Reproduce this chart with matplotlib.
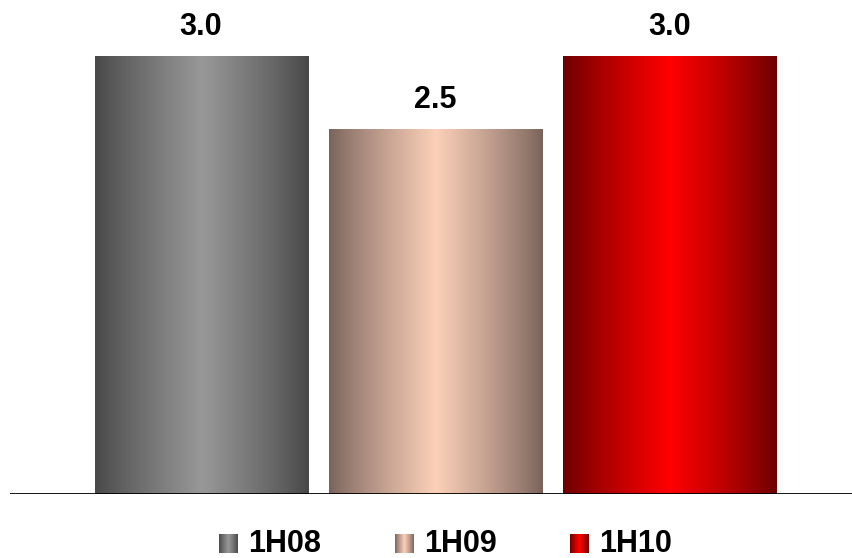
import matplotlib
matplotlib.use("Agg")
import matplotlib.pyplot as plt
from matplotlib.patches import Rectangle
from matplotlib.colors import to_rgb
import numpy as np

periods = ["1H08", "1H09", "1H10"]
values = [3.0, 2.5, 3.0]
value_labels = ["3.0", "2.5", "3.0"]

# (edge colour, centre colour) for the cylinder-style shading
shades = [("#474747", "#989898"),
          ("#78625a", "#fcd0b9"),
          ("#6a0000", "#ff0000")]

plt.rcParams["font.family"] = ["Liberation Sans", "DejaVu Sans"]


def gradient(edge, centre, n=256):
    e = np.array(to_rgb(edge))
    c = np.array(to_rgb(centre))
    t = np.linspace(0, 1, n)
    t = (1 - np.abs(2 * t - 1)) ** 0.85
    img = e[None, :] + (c - e)[None, :] * t[:, None]
    return img[None, :, :]


fig = plt.figure(figsize=(8.52, 5.58), dpi=100)
ax = fig.add_axes([10 / 852, 64 / 558, 842 / 852, 494 / 558])
ax.set_xlim(-0.816, 2.78)
ax.set_ylim(0, 3.0 * 494 / 438)

width = 0.91
for i, (v, lab, (e, c)) in enumerate(zip(values, value_labels, shades)):
    x0 = i - width / 2
    rect = Rectangle((x0, 0), width, v, facecolor="none", edgecolor="none")
    ax.add_patch(rect)
    im = ax.imshow(gradient(e, c), extent=(x0, x0 + width, 0, v),
                   aspect="auto", interpolation="bilinear", zorder=1)
    im.set_clip_path(rect)
    ax.annotate(lab, (i, v), xytext=(0, 15), textcoords="offset points",
                ha="center", va="baseline", fontsize=22, fontweight="bold")

ax.axhline(0, color="black", lw=2, zorder=3)
ax.axis("off")
ax.set_xlim(-0.816, 2.78)
ax.set_ylim(0, 3.0 * 494 / 438)

# legend: small shaded squares with bold labels
leg_x = [219, 395, 570]
for x, name, (e, c) in zip(leg_x, periods, shades):
    sq = fig.add_axes([x / 852, (558 - 553) / 558, 19 / 852, 19 / 558])
    sq.imshow(gradient(e, c), aspect="auto", interpolation="bilinear")
    sq.axis("off")
    fig.text((x + 29) / 852, (558 - 544) / 558, name, fontsize=22,
             fontweight="bold", va="center", ha="left")

fig.savefig("out.png", dpi=100)
